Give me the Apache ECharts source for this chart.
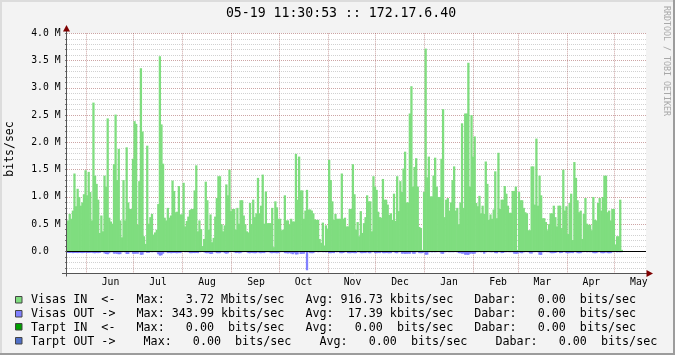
<!DOCTYPE html>
<html>
<head>
<meta charset="utf-8">
<script src="https://cdn.jsdelivr.net/npm/echarts@6/dist/echarts.min.js"></script>
<style>
html,body{margin:0;padding:0;background:#f3f3f3;}
#c{width:675px;height:355px;}
</style>
</head>
<body>
<div id="c"></div>
<script>
// ---------- DATA ----------
const titleText = '05-19 11:30:53 :: 172.17.6.40';
const startDate = [2014, 4, 20];   // first day shown (May 20)
const dayCount = 366;
const monthNames = ['Jan','Feb','Mar','Apr','May','Jun','Jul','Aug','Sep','Oct','Nov','Dec'];
const yTickLabels = ['0.0  ','0.5 M','1.0 M','1.5 M','2.0 M','2.5 M','3.0 M','3.5 M','4.0 M'];

// Visas IN, Mbit/s, one value per day
const inPart1 = [0.57,0.69,0.60,0.75,1.43,0.83,1.15,1.00,0.84,0.90,
 1.05,1.49,1.03,1.46,1.09,0.57,2.73,1.39,1.24,0.95,
 0.34,0.66,0.37,1.39,1.19,2.44,0.62,0.55,0.51,1.60,
 2.51,1.31,1.88,0.57,0.26,1.31,0.57,1.91,0.90,0.78,
 0.78,1.70,2.39,2.34,0.49,1.29,3.36,2.20,0.28,0.14,
 1.94,0.51,0.63,0.69,0.31,0.35,0.40,0.87,3.58,2.33,
 1.61,0.62,0.57,0.80,0.62,0.66,1.30,1.11,0.72,0.73,
 1.20,0.68,0.68,1.26,0.46,0.56,0.64,0.76,0.78,0.78,
 1.12,1.58,0.37,0.57,0.41,0.10,0.23,1.28,0.94,0.40,
 0.68,0.17,0.25,0.64,0.98,1.38,1.38];
const inPart2 = [0.50,0.37,0.48,1.23,1.03,1.50,0.74,0.78,0.78,0.40,
 0.80,0.51,0.94,0.94,0.66,0.50,0.37,0.35,0.89,0.50,
 0.95,0.63,0.70,1.35,0.70,0.84,1.41,0.51,1.10,0.52,
 0.52,0.52,0.80,0.08,0.92,0.81,0.60,0.60,0.39,0.40,
 1.03,0.57,0.57,0.49,0.60,0.55,0.55,1.79,0.95,1.74,
 1.12,1.12,0.60,0.75,1.13,0.77,0.77,0.75,0.70,0.59,
 0.58,0.58,0.23,0.16,0.53,0.11,0.48,0.42,1.68,1.31,
 0.92,0.58,0.69,0.60,0.60,0.60,1.43,0.60,0.62,0.46,
 0.46,0.78,0.78,1.60,1.05,0.40,0.54,0.28,0.74,0.34,
 0.52,0.63,1.03,0.92,0.92];
const inPart3 = [0.37,1.38,1.19,1.13,0.73,0.63,0.62,1.33,0.95,0.95,
 0.86,0.67,0.70,0.58,1.06,0.56,1.38,0.74,1.29,1.09,
 1.52,1.83,0.90,0.90,2.53,3.03,1.19,1.55,1.71,1.19,
 0.45,0.43,0.03,1.09,3.72,1.36,1.74,1.01,1.01,1.39,
 1.72,1.19,1.00,1.00,1.70,2.61,0.63,0.95,0.98,0.75,
 0.90,1.31,1.56,0.75,0.80,0.50,0.90,2.35,0.80,2.53,
 2.53,3.46,1.19,2.50,1.74,2.11,0.89,0.83,1.02,0.70,
 0.84,0.69,1.65,1.24,0.58,0.68,0.60,0.77,1.47,0.61,
 1.81,0.78];
const inPart4 = [0.95,0.95,1.20,1.06,0.84,0.71,0.71,1.11,1.11,1.19,
 0.03,1.09,0.94,0.94,0.80,0.72,0.70,0.39,0.39,1.56,
 1.56,0.86,2.07,0.84,1.39,1.03,0.61,0.61,0.54,0.39,
 0.50,0.70,0.70,0.84,0.63,0.46,0.84,0.84,0.43,1.50,
 0.75,0.83,0.32,0.89,1.06,0.21,1.64,1.35,0.94,0.72,
 0.75,0.23,0.69,0.98,0.51,0.49,0.49,0.39,1.00,0.58,
 0.57,0.89,0.98,0.75,1.00,1.39,1.39,0.72,0.75,0.57,
 0.78,0.78,0.13,0.28,0.28,0.95,0.03];

// Visas OUT, kbit/s, one value per day (drawn below zero)
const outPart1 = [25,28,24,30,27,26,29,25,28,30,
 26,24,28,27,25,22,30,32,28,30,
 26,14,12,35,45,50,32,12,15,40,
 38,42,50,48,14,12,15,45,44,14,
 12,40,42,38,40,15,60,58,14,12,
 25,24,12,14,12,10,15,50,75,70,
 40,14,12,30,28,32,30,28,30,32,
 28,30,12,10,14,12,15,30,32,28,
 30,28,30,14,12,10,15,30,32,30];
const outPart2 = [45,42,12,14,30,32,30,14,12,30,
 40,32,14,12,10,15,30,28,32,30,
 14,12,10,15,30,32,28,30,32,30,
 14,30,32,28,30,12,14,12,30,32,
 28,30,32,30,14,12,10,30,32,35,
 30,38,50,30,55,52,14,45,42,40,
 14,344,15,30,32,30,12,10,14,12,
 10,14,12,15,12,30,32,28,30,12,
 14,12,30,32,28,12,14,30,32,30];
const outPart3 = [28,32,30,14,12,30,32,28,30,14,
 30,32,14,12,30,32,28,30,14,30,
 32,28,30,32,30,14,12,30,32,14,
 12,40,38,42,40,38,40,14,40,42,
 14,12,30,32,30,15,60,58,14,12,
 15,12,14,12,10,14,40,42,14,12,
 10,15,12,14,12,10,14,30,32,40,
 38,60,58,62,40,38,42,40,14,12,
 10,15,12,40,14,12,10,15,14,12];
const outPart4 = [30,32,14,12,30,28,12,14,10,15,
 12,14,40,42,40,14,30,32,14,12,
 10,15,35,38,14,12,10,15,60,62,
 14,12,10,15,12,30,32,30,28,14,
 12,30,28,14,12,30,32,30,28,30,
 14,12,30,32,30,14,12,10,15,12,
 14,12,30,32,30,14,12,30,32,30,
 14,30,32,30,14,12,10,15,12,14,
 12];

const legendRows = [
  {color:'#7fdd7f', text:'Visas IN  <-   Max:   3.72 Mbits/sec   Avg: 916.73 kbits/sec   Dabar:   0.00  bits/sec'},
  {color:'#8080ff', text:'Visas OUT ->   Max: 343.99 kbits/sec   Avg:  17.39 kbits/sec   Dabar:   0.00  bits/sec'},
  {color:'#00a000', text:'Tarpt IN  <-   Max:   0.00  bits/sec   Avg:   0.00  bits/sec   Dabar:   0.00  bits/sec'},
  {color:'#5070c8', text:'Tarpt OUT ->    Max:   0.00  bits/sec    Avg:   0.00  bits/sec    Dabar:   0.00  bits/sec'}
];

// ---------- BUILD ----------
const categories = [];
const t0 = Date.UTC(startDate[0], startDate[1], startDate[2]);
for (let i = 0; i < dayCount; i++) {
  categories.push(new Date(t0 + i * 86400000).toISOString().slice(0, 10));
}
const visasIn = inPart1.concat(inPart2, inPart3, inPart4);
const visasOut = outPart1.concat(outPart2, outPart3, outPart4).map(v => -v / 1000);

const MONO = '"DejaVu Sans Mono", monospace';
const gridCol = 'rgba(140,140,140,0.40)';
const mgridCol = 'rgba(130,30,30,0.40)';

// step block per day, drawn through the axis scales
function renderStep(params, api) {
  const i = api.value(0), v = api.value(1);
  if (v == null || isNaN(v)) return null;
  const p0 = api.coord([i, 0]);
  const p1 = api.coord([i, v]);
  const bw = api.size([1, 0])[0];
  return {
    type:'rect',
    shape:{x:p0[0] - bw / 2, y:Math.min(p0[1], p1[1]), width:bw + 0.7, height:Math.abs(p1[1] - p0[1])},
    style:{fill:api.visual('color')}
  };
}

const graphics = [];
graphics.push({type:'rect', shape:{x:0,y:0,width:675,height:2}, style:{fill:'#dcdcdc'}, silent:true});
graphics.push({type:'rect', shape:{x:0,y:0,width:2,height:355}, style:{fill:'#dcdcdc'}, silent:true});
graphics.push({type:'rect', shape:{x:673,y:0,width:2,height:355}, style:{fill:'#9c9c9c'}, silent:true});
graphics.push({type:'rect', shape:{x:0,y:353,width:675,height:2}, style:{fill:'#9c9c9c'}, silent:true});
graphics.push({type:'text', x:341, y:14, silent:true,
  style:{text:titleText, font:'13.2px ' + MONO, fill:'#000', align:'center', verticalAlign:'middle', textAlign:'center', textVerticalAlign:'middle'}});
graphics.push({type:'text', x:666.5, y:61, rotation:-Math.PI/2, silent:true,
  style:{text:'RRDTOOL / TOBI OETIKER', font:'8.3px ' + MONO, fill:'#a8a8a8', align:'center', verticalAlign:'middle', textAlign:'center', textVerticalAlign:'middle'}});
graphics.push({type:'text', x:10.5, y:149, rotation:Math.PI/2, silent:true,
  style:{text:'bits/sec', font:'11.5px ' + MONO, fill:'#000', align:'center', verticalAlign:'middle', textAlign:'center', textVerticalAlign:'middle'}});
graphics.push({type:'line', z:50, shape:{x1:66.5,y1:276.5,x2:66.5,y2:30}, style:{stroke:'#555', lineWidth:1}, silent:true});
graphics.push({type:'line', z:50, shape:{x1:62,y1:273.5,x2:647,y2:273.5}, style:{stroke:'#555', lineWidth:1}, silent:true});
graphics.push({type:'polygon', z:51, shape:{points:[[63,31.5],[70,31.5],[66.5,25]]}, style:{fill:'#7f0000'}, silent:true});
graphics.push({type:'polygon', z:51, shape:{points:[[646.5,270],[646.5,277],[653,273.5]]}, style:{fill:'#7f0000'}, silent:true});
legendRows.forEach((r, i) => {
  const cy = 299.7 + i * 13.85;
  graphics.push({type:'rect', silent:true, shape:{x:15.5, y:Math.round(cy - 4) + 0.5, width:6.5, height:6.5},
    style:{fill:r.color, stroke:'#444', lineWidth:1}});
  graphics.push({type:'text', x:31, y:cy + 0.7, silent:true,
    style:{text:r.text, font:'11.7px ' + MONO, fill:'#000', align:'left', verticalAlign:'middle', textAlign:'left', textVerticalAlign:'middle'}});
});

const chart = echarts.init(document.getElementById('c'), null, {renderer:'canvas'});
chart.setOption({
  backgroundColor:'#f3f3f3',
  animation:false,
  grid:{left:67, top:33.32, width:579, height:240, show:true, backgroundColor:'#ffffff', borderWidth:0, containLabel:false},
  xAxis:{
    type:'category', data:categories, boundaryGap:true,
    axisLine:{show:false}, axisTick:{show:false},
    axisLabel:{
      interval:(idx, v) => v.slice(8) === '16',
      formatter:v => monthNames[parseInt(v.slice(5, 7), 10) - 1],
      fontFamily:MONO, fontSize:9.75, color:'#000', margin:4
    },
    splitLine:{show:true, showMaxLine:false, interval:(idx, v) => v.slice(8) === '01',
      lineStyle:{color:mgridCol, type:[1,1], width:1}}
  },
  yAxis:{
    type:'value', min:-0.4, max:4.0, interval:0.1,
    axisLine:{show:false},
    axisTick:{show:true, length:2, lineStyle:{color:'#777'}},
    axisLabel:{
      formatter:v => { const r = Math.round(v * 10); return (r >= 0 && r % 5 === 0) ? yTickLabels[r / 5] : ''; },
      fontFamily:MONO, fontSize:9.75, color:'#000', margin:6.5
    },
    splitLine:{show:true, lineStyle:{color:[gridCol,gridCol,gridCol,gridCol,mgridCol], type:[1,1], width:1}}
  },
  series:[
    {type:'custom', name:'Visas IN', renderItem:renderStep, silent:true,
     itemStyle:{color:'#7fdd7f'}, encode:{x:0, y:1},
     data:visasIn.map((v, i) => [i, v])},
    {type:'custom', name:'Visas OUT', renderItem:renderStep, silent:true,
     itemStyle:{color:'#8080ff'}, encode:{x:0, y:1},
     data:visasOut.map((v, i) => [i, v]),
     markLine:{silent:true, symbol:['none','none'], label:{show:false},
       lineStyle:{color:'#000', type:'solid', width:1}, data:[{yAxis:0}]}}
  ],
  graphic:graphics
});
</script>
</body>
</html>
